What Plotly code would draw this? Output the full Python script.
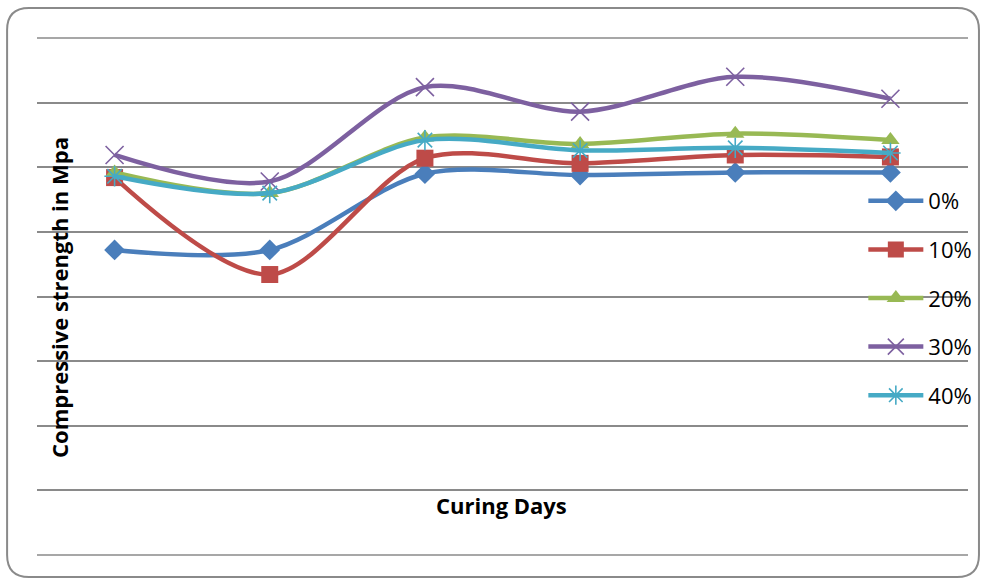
import plotly.graph_objects as go

# Data (grid step assumed 5 MPa)
days = ["3", "7", "14", "21", "28", "56"]
s0 = [23.6, 23.6, 29.5, 29.4, 29.6, 29.6]
s10 = [29.2, 21.7, 30.7, 30.3, 30.95, 30.8]
s20 = [29.6, 28.0, 32.3, 31.8, 32.6, 32.1]
s30 = [30.95, 28.9, 36.2, 34.3, 37.0, 35.3]
s40 = [29.3, 28.0, 32.1, 31.3, 31.5, 31.1]
names = ["0%", "10%", "20%", "30%", "40%"]

W, H = 989, 582
L, R, T, B = 37, 971, 38, 555

def px(x):
    return (x - L) / (R - L)

def py(y):
    return (B - y) / (B - T)

colors = ["#4A7EBB", "#BE4B48", "#98B954", "#7D60A0", "#46AAC5"]
symbols = ["diamond", "square", "triangle-up", "x-thin-open", "asterisk-open"]
sizes = [16, 17, 16, 18, 17]
series = [s0, s10, s20, s30, s40]

fig = go.Figure()
for i, (nm, vals) in enumerate(zip(names, series)):
    fig.add_trace(go.Scatter(
        x=days, y=vals, name=nm, mode="lines+markers",
        line=dict(color=colors[i], width=4.5, shape="spline", smoothing=0.9),
        marker=dict(symbol=symbols[i], size=sizes[i], color=colors[i],
                    line=dict(color=colors[i], width=1.6 if i >= 3 else 0)),
        legendgroup=nm,
    ))

# Rounded frame
x0, x1, y0, y1 = 7, 982, 8, 577
r = 22
def P(x, y):
    return f"{px(x):.5f},{py(y):.5f}"
path = (f"M {P(x0 + r, y0)} L {P(x1 - r, y0)} Q {P(x1, y0)} {P(x1, y0 + r)} "
        f"L {P(x1, y1 - r)} Q {P(x1, y1)} {P(x1 - r, y1)} "
        f"L {P(x0 + r, y1)} Q {P(x0, y1)} {P(x0, y1 - r)} "
        f"L {P(x0, y0 + r)} Q {P(x0, y0)} {P(x0 + r, y0)} Z")
fig.add_shape(type="path", path=path, xref="paper", yref="paper",
              line=dict(color="#8a8a8a", width=2), layer="below")
# top and bottom grid lines (edge gridlines not drawn by plotly)
for yy in (0, 1):
    fig.add_shape(type="line", xref="paper", yref="paper", x0=0, x1=1, y0=yy, y1=yy,
                  line=dict(color="#8a8a8a", width=1.5), layer="below")

fig.add_annotation(text="<b>Compressive strength in Mpa</b>", textangle=-90,
                   x=px(59), y=py(297), xref="paper", yref="paper",
                   xanchor="center", yanchor="middle",
                   showarrow=False, font=dict(size=22, color="black", family="Open Sans"))
fig.add_annotation(text="<b>Curing Days</b>",
                   x=px(503), y=py(505), xref="paper", yref="paper",
                   xanchor="center", yanchor="middle",
                   showarrow=False, font=dict(size=22, color="black", family="Open Sans"))

fig.update_layout(
    width=W, height=H,
    margin=dict(l=L, r=W - R, t=T, b=H - B),
    paper_bgcolor="white", plot_bgcolor="white",
    font=dict(family="Open Sans", color="black"),
    xaxis=dict(type="category", range=[-0.5, 5.5], showticklabels=False,
               showgrid=False, zeroline=False, showline=False, ticks=""),
    yaxis=dict(range=[0, 40], dtick=5, showticklabels=False, showgrid=True,
               gridcolor="#8a8a8a", gridwidth=1.5, zeroline=False, showline=False, ticks=""),
    legend=dict(x=px(866), y=py(180), xanchor="left", yanchor="top",
                bgcolor="rgba(0,0,0,0)", font=dict(size=22, family="Open Sans"),
                tracegroupgap=17, itemwidth=55),
    showlegend=True,
)

fig.write_html("out.html", config={"displayModeBar": False},
               post_script="document.body.style.margin='0';")
